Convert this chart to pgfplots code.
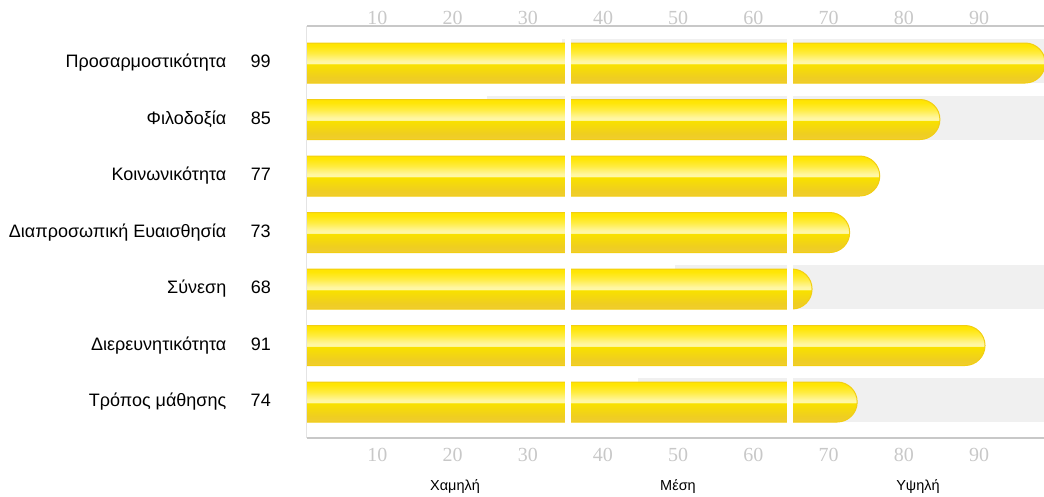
\documentclass[border=0pt]{standalone}
\usepackage{fontspec}
\setmainfont{Liberation Sans}
\newfontfamily\tickfont{Liberation Serif}
\usepackage{pgfplots}
\usepackage{pgfplotstable}
\pgfplotsset{compat=1.18}

\definecolor{tickgray}{HTML}{C8C8C8}
\definecolor{linegray}{HTML}{C8C8C8}
\definecolor{leftgray}{HTML}{E4E4E4}
\definecolor{bandgray}{HTML}{F0F0F0}
\definecolor{baredge}{HTML}{F2CE12}
\definecolor{barA}{HTML}{F0CC30}
\definecolor{barB}{HTML}{EFCE20}
\definecolor{barC}{HTML}{F8E000}
\definecolor{barD}{HTML}{F9E200}
\definecolor{barE}{HTML}{FFF8A8}
\definecolor{barF}{HTML}{FFF6A0}
\definecolor{barG}{HTML}{FFEC40}
\definecolor{barH}{HTML}{FFE608}
\definecolor{barI}{HTML}{FFE400}

% glossy bar, bottom to top (the middle 50bp is fitted to the path)
\pgfdeclareverticalshading{barshade}{100bp}{%
  color(0bp)=(barA); color(25bp)=(barA); color(32.5bp)=(barB);
  color(47.5bp)=(barC); color(48.5bp)=(barD); color(49.5bp)=(barE);
  color(52.5bp)=(barF); color(62.5bp)=(barG); color(71bp)=(barH);
  color(75bp)=(barI); color(100bp)=(barI)}

% bar with a round right end, drawn leftwards from the value
\pgfdeclareplotmark{rbar}{%
  \pgfpathmoveto{\pgfpoint{-1200pt}{-20pt}}%
  \pgfpathlineto{\pgfpoint{-21.5pt}{-20pt}}%
  \pgfpatharc{-90}{90}{20pt}%
  \pgfpathlineto{\pgfpoint{-1200pt}{20pt}}%
  \pgfpathclose
  \pgfshadepath{barshade}{0}%
  \pgfsetstrokecolor{baredge}%
  \pgfsetlinewidth{1pt}%
  \pgfusepath{stroke}%
}
% grey band from the start value to the right edge
\pgfdeclareplotmark{gband}{%
  \pgfpathrectanglecorners{\pgfpoint{0pt}{-20pt}}{\pgfpoint{1200pt}{24pt}}%
  \pgfsetfillcolor{bandgray}%
  \pgfusepath{fill}%
}

\pgfplotstableread{
row value band
1 99 34.6
2 85 24.6
3 77 nan
4 73 nan
5 68 49.6
6 91 nan
7 74 44.7
}\scores

\begin{document}
\begin{tikzpicture}
\begin{axis}[
  name=main,
  width=741.2pt, height=412pt, scale only axis,
  xmin=0.64, xmax=99.2,
  ymin=0.345, ymax=7.637,
  y dir=reverse,
  axis line style={draw=none},
  major tick length=0pt,
  xtick={10,20,...,90},
  /pgf/number format/assume math mode=true,
  xticklabel style={font=\tickfont\fontsize{20}{24}\selectfont, text=tickgray,
    inner sep=0pt, anchor=north, yshift=-10pt},
  ytick={1,...,7},
  yticklabels={Προσαρμοστικότητα\hspace{24.5pt}99,
    Φιλοδοξία\hspace{24.5pt}85,
    Κοινωνικότητα\hspace{24.5pt}77,
    Διαπροσωπική Ευαισθησία\hspace{24.5pt}73,
    Σύνεση\hspace{24.5pt}68,
    Διερευνητικότητα\hspace{24.5pt}91,
    Τρόπος μάθησης\hspace{24.5pt}74},
  yticklabel style={font=\fontsize{18}{21}\selectfont, anchor=east,
    inner sep=0pt, xshift=-36pt},
  clip marker paths=true,
]
\addplot[only marks, mark=gband] table[x=band, y=row] {\scores};
\addplot[only marks, mark=rbar] table[x=value, y=row] {\scores};
\addplot[white, line width=6pt] coordinates {(35.4,0.5) (35.4,7.5)};
\addplot[white, line width=6pt] coordinates {(64.9,0.5) (64.9,7.5)};
\end{axis}

% upper tick labels
\begin{axis}[
  at={(main.south west)}, anchor=south west,
  width=741.2pt, height=412pt, scale only axis,
  xmin=0.64, xmax=99.2, ymin=0, ymax=1,
  axis line style={draw=none},
  major tick length=0pt,
  xtick={10,20,...,90}, ytick=\empty,
  xticklabel pos=upper,
  /pgf/number format/assume math mode=true,
  xticklabel style={font=\tickfont\fontsize{20}{24}\selectfont, text=tickgray,
    inner sep=0pt, anchor=south, yshift=1pt},
]
\end{axis}

\draw[leftgray, line width=1pt] (main.north west) -- (main.south west);
\draw[linegray, line width=1.5pt] (main.north west) -- (main.north east);
\draw[linegray, line width=1.5pt] (main.south west) -- (main.south east);

\begin{scope}[every node/.style={font=\fontsize{14.5}{17}\selectfont}]
\node at ([xshift=148pt, yshift=-49pt]main.south west) {Χαμηλή};
\node at ([xshift=371pt, yshift=-49pt]main.south west) {Μέση};
\node at ([xshift=611pt, yshift=-49pt]main.south west) {Υψηλή};
\end{scope}

\pgfresetboundingbox
\path ([xshift=-307pt, yshift=26pt]main.north west) rectangle ([xshift=737pt, yshift=-58pt]main.south west);
\end{tikzpicture}
\end{document}
